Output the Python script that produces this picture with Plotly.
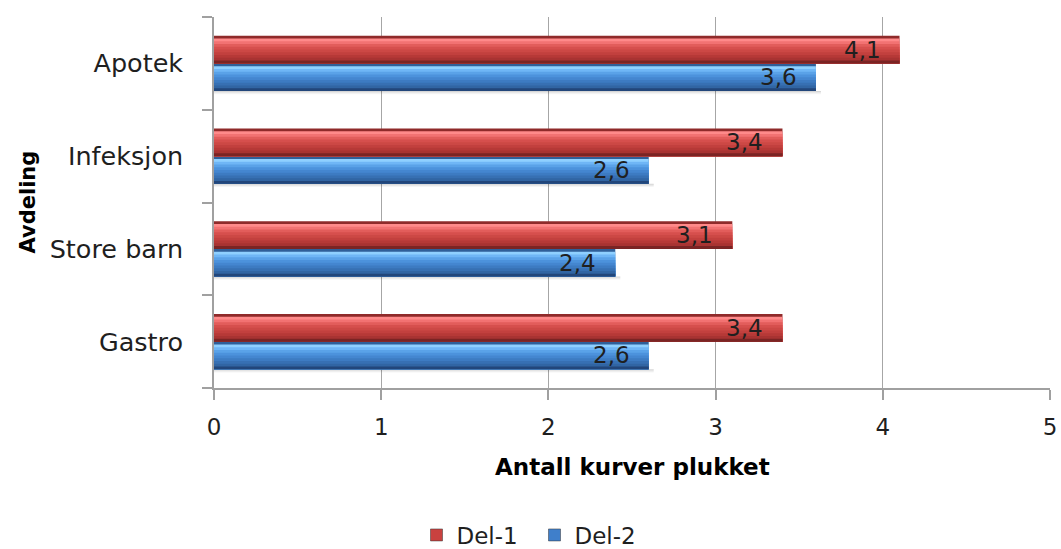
import plotly.graph_objects as go

# Data (top-to-bottom order as shown)
avdelinger = ["Apotek", "Infeksjon", "Store barn", "Gastro"]
del1 = [4.1, 3.4, 3.1, 3.4]
del2 = [3.6, 2.6, 2.4, 2.6]
series_names = ["Del-1", "Del-2"]
x_ticks = [0, 1, 2, 3, 4, 5]

FONT = "DejaVu Sans"
TXT = "#1f1f1f"

# Vertical shading of each bar (top -> bottom) for a bevelled look
RED_SHADES = ["#8f2a2a", "#ff8a8a", "#f27272", "#e25d5b", "#d64f4d",
              "#cc4845", "#c2403e", "#b63937", "#a83332", "#7a2424"]
BLUE_SHADES = ["#2f5f99", "#8fd0ff", "#6fb6f6", "#5aa2e8", "#4c92dc",
               "#4486d0", "#3d7bc2", "#3770b3", "#3165a3", "#22467a"]
RED_MAIN = "#c9413f"
BLUE_MAIN = "#3f7fcb"

H = 0.297  # bar thickness in category units
N = len(RED_SHADES)
PX_PER_CAT = 371 / 4

cats_bottom_up = list(reversed(avdelinger))
fig = go.Figure()


def add_bar(values, shades, upper, shadow=False):
    band = H / N
    bottom = 0.0 if upper else -H
    if shadow:
        # soft drop shadow under the bar
        for j, a in enumerate([0.16, 0.09, 0.04]):
            fig.add_trace(go.Bar(
                y=avdelinger, x=[v + 0.03 for v in values], orientation="h",
                width=0.012, offset=bottom - (j + 1) * 0.012,
                marker=dict(color=f"rgba(0,0,0,{a})", line=dict(width=0)),
                showlegend=False, hoverinfo="skip"))
    # each band runs from its own top edge down to the bar bottom,
    # later bands painted over earlier ones -> no seams between bands
    for k, c in enumerate(shades):
        top = bottom + H - k * band
        fig.add_trace(go.Bar(
            y=avdelinger, x=values, orientation="h",
            width=top - bottom, offset=bottom,
            marker=dict(color=c, line=dict(width=0)),
            showlegend=False, hoverinfo="skip"))


add_bar(del2, BLUE_SHADES, upper=False, shadow=True)
add_bar(del1, RED_SHADES, upper=True)

# Legend entries
for name, col in zip(series_names, [RED_MAIN, BLUE_MAIN]):
    fig.add_trace(go.Bar(y=[None], x=[None], orientation="h", name=name,
                         marker=dict(color=col, line=dict(color="#333", width=0.5))))


# Value labels at the bar ends
def fmt(v):
    return f"{v:.1f}".replace(".", ",")


annotations = []
for cat, v1, v2 in zip(avdelinger, del1, del2):
    for v, ys in ((v1, H / 2), (v2, -H / 2)):
        annotations.append(dict(
            x=v, y=cat, xref="x", yref="y", text=fmt(v), showarrow=False,
            xanchor="right", yanchor="middle", xshift=-17, yshift=ys * PX_PER_CAT,
            font=dict(family=FONT, size=23, color=TXT)))

annotations.append(dict(
    text="<b>Antall kurver plukket</b>", xref="paper", yref="paper",
    x=0.5, y=-79 / 371, xanchor="center", yanchor="middle",
    showarrow=False, font=dict(family=FONT, size=23, color="#000")))
annotations.append(dict(
    text="<b>Avdeling</b>", xref="paper", yref="paper",
    x=(27 - 214) / 836, y=0.5, xanchor="center", yanchor="middle",
    textangle=-90, showarrow=False, font=dict(family=FONT, size=21, color="#000")))

fig.update_layout(
    width=1061, height=549,
    margin=dict(l=214, r=11, t=17, b=161, autoexpand=False),
    paper_bgcolor="white", plot_bgcolor="white",
    barmode="overlay",
    separators=",.",
    showlegend=True,
    legend=dict(orientation="h", xref="container", yref="paper",
                x=416.5 / 1061, y=-(535 - 388) / 371, xanchor="left", yanchor="middle",
                font=dict(family=FONT, size=23, color=TXT),
                itemwidth=30, entrywidth=73, entrywidthmode="pixels",
                traceorder="normal", bgcolor="rgba(0,0,0,0)"),
    annotations=annotations,
    xaxis=dict(range=[0, 5], tickvals=x_ticks, ticktext=[str(t) for t in x_ticks],
               showgrid=True, gridcolor="#a6a6a6", gridwidth=1.2,
               showline=True, linecolor="#a0a0a0", linewidth=1.5,
               ticks="outside", ticklen=10, tickcolor="#a0a0a0", tickwidth=1.5,
               ticklabelstandoff=8,
               tickfont=dict(family=FONT, size=23, color=TXT), zeroline=False,
               fixedrange=True),
    yaxis=dict(type="category", categoryorder="array", categoryarray=cats_bottom_up,
               range=[-0.5, 3.5], tickson="boundaries",
               showline=True, linecolor="#a0a0a0", linewidth=1.5,
               ticks="outside", ticklen=10, tickcolor="#a0a0a0", tickwidth=1.5,
               showgrid=False, ticklabelstandoff=24,
               tickfont=dict(family=FONT, size=25.5, color=TXT), fixedrange=True),
)

fig.write_html("out.html")
